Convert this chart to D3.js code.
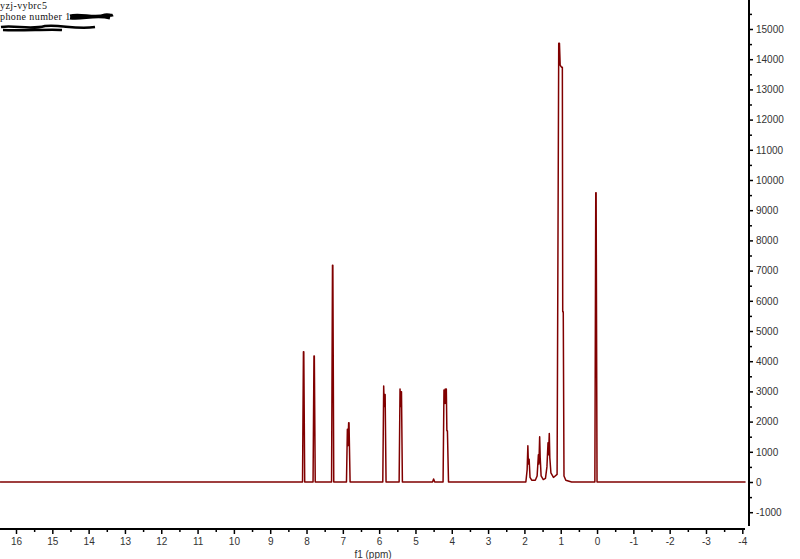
<!DOCTYPE html>
<html>
<head>
<meta charset="utf-8">
<script src="https://cdn.jsdelivr.net/npm/d3@7"></script>
<style>
  body { margin: 0; background: #fff; }
  svg { display: block; }
</style>
</head>
<body>
<svg id="chart" width="800" height="559" viewBox="0 0 800 559"></svg>
<script>
// header lines (top-left)
const titleLines = ["yzj-vybrc5", "phone number 1"]

// axis ticks
const ppmTicks = [16, 15, 14, 13, 12, 11, 10, 9, 8, 7, 6, 5, 4, 3, 2, 1, 0, -1, -2, -3, -4]
const ppmMinor = [15.5, 14.5, 13.5, 12.5, 11.5, 10.5, 9.5, 8.5, 7.5, 6.5, 5.5, 4.5, 3.5, 2.5, 1.5, 0.5, -0.5, -1.5, -2.5, -3.5]
const intTicks = [-1000, 0, 1000, 2000, 3000, 4000, 5000, 6000, 7000, 8000, 9000, 10000, 11000, 12000, 13000, 14000, 15000]
const intMinor = [-500, 500, 1500, 2500, 3500, 4500, 5500, 6500, 7500, 8500, 9500, 10500, 11500, 12500, 13500, 14500, 15500]

// spectrum: [ppm, intensity]
const spectrum = [
  [16.44, 0], [8.11, 0], [8.085, 4310], [8.075, 4310], [8.05, 0],
  [7.82, 0], [7.795, 4170], [7.785, 4170], [7.76, 0],
  [7.31, 0], [7.285, 7180], [7.275, 7180], [7.25, 0],
  [6.9, 0], [6.875, 1745], [6.86, 1200], [6.84, 1960], [6.83, 1960], [6.80, 0],
  [5.9, 0], [5.875, 3180], [5.86, 2500], [5.845, 2900], [5.835, 2900], [5.81, 0],
  [5.45, 0], [5.425, 3080], [5.41, 2500], [5.395, 2990], [5.385, 2990], [5.36, 0],
  [4.53, 0], [4.50, 100], [4.47, 0],
  [4.24, 0], [4.215, 3050], [4.20, 2600], [4.18, 3080], [4.165, 2600], [4.15, 3080], [4.135, 1700], [4.12, 1700], [4.09, 0],
  [1.96, 0], [1.925, 400], [1.905, 1200], [1.89, 600], [1.87, 750], [1.845, 150], [1.80, 60],
  [1.70, 60], [1.65, 200], [1.615, 900], [1.60, 600], [1.58, 1500], [1.565, 800], [1.54, 200], [1.48, 80],
  [1.42, 120], [1.38, 500], [1.35, 1300], [1.335, 900], [1.315, 1610], [1.30, 800], [1.27, 300], [1.20, 150],
  [1.10, 250], [1.055, 14530], [1.035, 14530], [1.015, 13800], [0.975, 13730], [0.955, 13730], [0.945, 5640], [0.93, 5640], [0.91, 200], [0.86, 60],
  [0.70, 0], [0.06, 0], [0.035, 9580], [0.025, 9580], [0.0, 0],
  [-4.09, 0]
]

const width = 800
const height = 559
const svg = d3.select("#chart")

const xScale = d3.scaleLinear().domain([16, -4]).range([16, 742.3])
const yScale = d3.scaleLinear().domain([0, 15000]).range([482, 29])

const axisY = 529   // bottom axis line
const axisX = 749   // right axis line
const font = "Liberation Sans, Arial, sans-serif"

// spectrum
const line = d3.line().x(d => xScale(d[0])).y(d => yScale(d[1]))
svg.append("path")
   .datum(spectrum)
   .attr("d", line)
   .attr("fill", "none")
   .attr("stroke", "#800000")
   .attr("stroke-width", 1.5)
   .attr("stroke-linejoin", "round")

// bottom axis
const xAxisG = svg.append("g").attr("transform", `translate(0, ${axisY})`)
const xMajor = xAxisG.append("g")
   .call(d3.axisBottom(xScale).tickValues(ppmTicks).tickSize(5).tickPadding(4).tickFormat(d => d < 0 ? "-" + Math.abs(d) : d))
xAxisG.append("g").call(d3.axisBottom(xScale).tickValues(ppmMinor).tickSize(3).tickFormat(""))
xAxisG.selectAll(".domain").remove()
xAxisG.selectAll(".tick line").attr("stroke", "#000").attr("stroke-width", 1.5)
xMajor.selectAll(".tick text").attr("fill", "#333").style("font", `10px ${font}`)
xAxisG.append("line")
   .attr("x1", 0).attr("x2", 745)
   .attr("y1", 0).attr("y2", 0)
   .attr("stroke", "#000").attr("stroke-width", 2)

svg.append("text")
   .text("f1 (ppm)")
   .attr("x", 373)
   .attr("y", 558)
   .attr("text-anchor", "middle")
   .attr("fill", "#333")
   .style("font", `10px ${font}`)

// right axis
const yAxisG = svg.append("g").attr("transform", `translate(${axisX}, 0)`)
const yMajor = yAxisG.append("g")
   .call(d3.axisRight(yScale).tickValues(intTicks).tickSize(4).tickPadding(3).tickFormat(d => d < 0 ? "-" + Math.abs(d) : d))
yAxisG.append("g").call(d3.axisRight(yScale).tickValues(intMinor).tickSize(3).tickFormat(""))
yAxisG.selectAll(".domain").remove()
yAxisG.selectAll(".tick line").attr("stroke", "#000").attr("stroke-width", 1.5)
yMajor.selectAll(".tick text").attr("fill", "#333").style("font", `10px ${font}`)
yAxisG.append("line")
   .attr("x1", 0).attr("x2", 0)
   .attr("y1", 0).attr("y2", 526)
   .attr("stroke", "#000").attr("stroke-width", 2)

// header text
const head = svg.append("g")
head.selectAll("text")
   .data(titleLines)
   .join("text")
   .text(d => d)
   .attr("x", 0)
   .attr("y", (d, i) => 9 + i * 11)
   .attr("fill", "#111")
   .style("font", "10px 'Liberation Serif', serif")
   .style("letter-spacing", "0.4px")

// redaction scribbles
head.append("path")
   .attr("d", "M70,16 C80,13 95,19 105,15 C108,14 111,16 113,15 M70,18 C82,20 95,14 110,18")
   .attr("fill", "none").attr("stroke", "#000").attr("stroke-width", 3)
head.append("path")
   .attr("d", "M1,27 C15,25 30,30 45,26 C60,24 75,30 95,27 M3,30 C20,31 50,29 62,30")
   .attr("fill", "none").attr("stroke", "#000").attr("stroke-width", 2.5)
</script>
</body>
</html>
